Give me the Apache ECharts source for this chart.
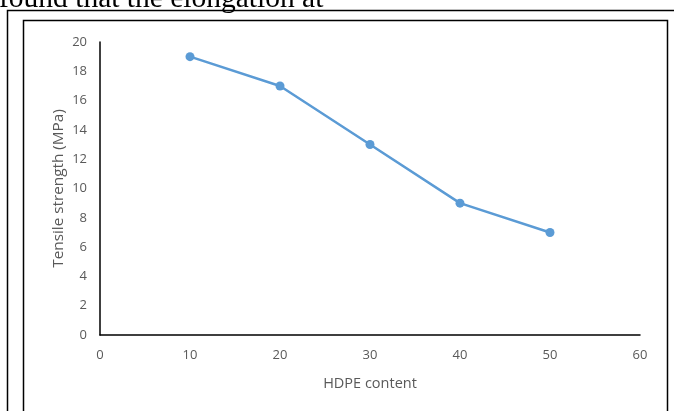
<!DOCTYPE html>
<html>
<head>
<meta charset="utf-8">
<script src="https://cdn.jsdelivr.net/npm/echarts@6/dist/echarts.min.js"></script>
<style>
html,body{margin:0;padding:0;background:#fff;}
#c{width:674px;height:411px;}
</style>
</head>
<body>
<div id="c"></div>
<script>
const hdpeContent = [10, 20, 30, 40, 50];
const tensileStrength = [19, 17, 13, 9, 7];
const xTicks = [0, 10, 20, 30, 40, 50, 60];
const yTicks = [0, 2, 4, 6, 8, 10, 12, 14, 16, 18, 20];

const chart = echarts.init(document.getElementById('c'), null, {renderer: 'canvas'});
const labelFont = '"Open Sans", sans-serif';
chart.setOption({
  backgroundColor: '#ffffff',
  animation: false,
  grid: {left: 100, right: 34, top: 42, bottom: 76},
  xAxis: {
    type: 'value',
    min: xTicks[0], max: xTicks[xTicks.length - 1], interval: 10,
    name: 'HDPE content', nameLocation: 'middle', nameGap: 41,
    nameTextStyle: {color: '#595959', fontSize: 14.5, fontFamily: labelFont},
    axisLine: {show: true, lineStyle: {color: '#000', width: 1.5}},
    axisTick: {show: false},
    splitLine: {show: false},
    axisLabel: {color: '#595959', fontSize: 13, fontFamily: labelFont, margin: 14}
  },
  yAxis: {
    type: 'value',
    min: yTicks[0], max: yTicks[yTicks.length - 1], interval: 2,
    name: 'Tensile strength (MPa)', nameLocation: 'middle', nameGap: 34,
    nameMoveOverlap: false,
    nameTextStyle: {color: '#595959', fontSize: 15.3, fontFamily: labelFont},
    axisLine: {show: true, lineStyle: {color: '#000', width: 1.5}},
    axisTick: {show: false},
    splitLine: {show: false},
    axisLabel: {color: '#595959', fontSize: 13, fontFamily: labelFont, margin: 13}
  },
  series: [{
    type: 'line',
    data: hdpeContent.map((x, i) => [x, tensileStrength[i]]),
    symbol: 'circle', symbolSize: 9,
    lineStyle: {color: '#5B9BD5', width: 2.5},
    itemStyle: {color: '#5B9BD5'}
  }],
  graphic: [
    {type: 'text', left: -1, top: -16, style: {text: 'found that the elongation at', font: '29.5px "Liberation Serif", serif', fill: '#000'}},
    {type: 'polyline', shape: {points: [[7.5, 420], [7.5, 10.5], [680, 10.5]]}, style: {stroke: '#000', lineWidth: 1.5, fill: null}},
    {type: 'polyline', shape: {points: [[23.5, 420], [23.5, 20.5], [667.5, 20.5], [667.5, 420]]}, style: {stroke: '#000', lineWidth: 1.5, fill: null}}
  ]
});
</script>
</body>
</html>
